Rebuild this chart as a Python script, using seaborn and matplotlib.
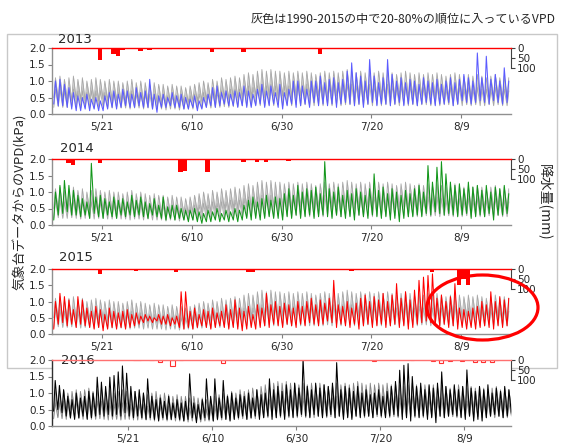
import numpy as np
import pandas as pd
import matplotlib
matplotlib.use("Agg")
import matplotlib.pyplot as plt
import matplotlib.dates as mdates
from matplotlib.patches import Rectangle, Ellipse
import seaborn as sns

# ---------------- data ----------------
title_text = "灰色は1990-2015の中で20-80%の順位に入っているVPD"
ylabel_text = "気象台データからのVPD(kPa)"
rlabel_text = "降水量(mm)"
tick_labels = ["5/21", "6/10", "6/30", "7/20", "8/9"]
years = [2013, 2014, 2015, 2016]

# daily max / min VPD (kPa), 2013-2015 from 5/10, 2016 from 5/3
vpd_max_2013 = [1.0, 1.05, 0.9, 0.8, 0.65, 0.55, 0.5, 0.6, 0.45, 0.5,
                0.4, 0.55, 0.65, 0.7, 0.6, 0.75, 0.7, 0.6, 0.8, 0.65,
                0.7, 1.05, 0.6, 0.55, 0.6, 0.5, 0.65, 0.55, 0.6, 0.5,
                0.45, 0.55, 0.4, 0.5, 0.6, 0.8, 0.85, 0.65, 0.7, 0.6,
                0.7, 0.65, 0.85, 0.7, 0.6, 0.75, 0.9, 0.7, 0.85, 0.65,
                0.9, 0.65, 0.75, 1.0, 1.0, 0.85, 0.75, 1.0, 1.0, 1.15,
                0.95, 1.05, 1.1, 0.95, 1.05, 1.3, 1.55, 1.25, 1.15, 1.0,
                1.65, 1.15, 0.95, 1.1, 1.65, 1.2, 1.0, 1.1, 0.95, 1.05,
                1.0, 0.9, 1.1, 1.0, 0.95, 1.05, 0.9, 1.0, 1.1, 0.95,
                1.05, 1.2, 1.1, 1.0, 1.85, 1.1, 1.75, 1.05, 1.2, 1.0,
                1.4, 1.0]
vpd_min_2013 = [0.3, 0.25, 0.25, 0.2, 0.15, 0.1, 0.1, 0.15, 0.1, 0.15,
                0.1, 0.1, 0.15, 0.2, 0.15, 0.2, 0.25, 0.2, 0.2, 0.25,
                0.2, 0.2, 0.15, 0.05, 0.2, 0.2, 0.25, 0.2, 0.2, 0.15,
                0.15, 0.2, 0.1, 0.15, 0.2, 0.25, 0.2, 0.25, 0.3, 0.25,
                0.25, 0.2, 0.25, 0.2, 0.2, 0.25, 0.3, 0.2, 0.25, 0.3,
                0.2, 0.15, 0.25, 0.3, 0.2, 0.25, 0.3, 0.2, 0.35, 0.25,
                0.3, 0.25, 0.3, 0.2, 0.3, 0.35, 0.3, 0.25, 0.3, 0.2,
                0.3, 0.35, 0.25, 0.3, 0.3, 0.25, 0.3, 0.35, 0.25, 0.3,
                0.3, 0.25, 0.3, 0.35, 0.3, 0.25, 0.3, 0.3, 0.35, 0.25,
                0.3, 0.4, 0.35, 0.3, 0.35, 0.4, 0.35, 0.3, 0.4, 0.35,
                0.3, 0.35]

vpd_max_2014 = [1.0, 1.2, 1.35, 1.2, 1.05, 0.9, 0.8, 0.7, 1.87, 0.85,
                0.9, 0.8, 0.7, 0.85, 0.75, 0.8, 0.7, 0.9, 0.75, 0.85,
                0.7, 0.65, 0.8, 0.6, 0.85, 0.55, 0.6, 0.6, 0.5, 0.45,
                0.45, 0.5, 0.4, 0.35, 0.45, 0.4, 0.5, 0.35, 0.45, 0.4,
                0.5, 0.45, 0.6, 0.75, 0.85, 0.7, 0.8, 0.9, 0.75, 0.85,
                0.8, 0.95, 1.1, 0.9, 1.2, 1.0, 1.1, 1.05, 1.15, 0.95,
                1.92, 1.1, 1.0, 1.15, 0.9, 1.05, 0.95, 1.1, 1.0, 0.9,
                1.1, 1.55, 1.05, 1.15, 0.95, 1.1, 1.0, 0.9, 1.05, 0.95,
                1.1, 1.2, 1.0, 1.8, 1.3, 1.75, 1.92, 1.55, 1.3, 1.2,
                1.25, 1.1, 1.3, 1.15, 1.2, 1.05, 1.2, 1.0, 1.15, 1.1,
                1.2, 0.95]
vpd_min_2014 = [0.15, 0.3, 0.35, 0.4, 0.3, 0.3, 0.25, 0.3, 0.2, 0.35,
                0.25, 0.2, 0.3, 0.25, 0.2, 0.3, 0.25, 0.3, 0.25, 0.3,
                0.25, 0.2, 0.3, 0.25, 0.2, 0.15, 0.2, 0.15, 0.2, 0.15,
                0.1, 0.15, 0.1, 0.05, 0.1, 0.1, 0.15, 0.1, 0.15, 0.1,
                0.15, 0.1, 0.15, 0.2, 0.15, 0.2, 0.15, 0.2, 0.25, 0.2,
                0.2, 0.15, 0.25, 0.2, 0.3, 0.2, 0.25, 0.3, 0.2, 0.25,
                0.3, 0.25, 0.2, 0.3, 0.25, 0.2, 0.25, 0.15, 0.3, 0.25,
                0.2, 0.3, 0.25, 0.2, 0.25, 0.15, 0.2, 0.1, 0.2, 0.25,
                0.25, 0.3, 0.25, 0.35, 0.3, 0.4, 0.35, 0.3, 0.35, 0.3,
                0.25, 0.3, 0.35, 0.2, 0.25, 0.3, 0.25, 0.35, 0.15, 0.3,
                0.3, 0.35]

vpd_max_2015 = [1.0, 1.25, 1.15, 1.05, 0.75, 1.15, 1.05, 0.8, 0.7, 0.85,
                0.75, 0.6, 0.8, 0.7, 0.65, 0.7, 0.75, 0.6, 0.65, 0.55,
                0.6, 0.55, 0.5, 0.6, 0.55, 0.6, 0.5, 0.55, 1.3, 1.3,
                0.7, 0.8, 0.6, 0.75, 0.7, 0.8, 0.65, 0.7, 0.9, 0.75,
                1.05, 0.8, 0.7, 0.85, 0.6, 0.9, 0.8, 1.25, 0.9, 1.0,
                0.85, 0.95, 0.9, 0.8, 1.0, 0.85, 1.0, 1.1, 0.9, 1.05,
                0.95, 1.1, 1.65, 0.9, 0.85, 1.0, 0.8, 0.95, 1.1, 1.2,
                1.0, 1.15, 1.05, 1.25, 1.0, 1.2, 1.55, 1.1, 1.3, 1.05,
                1.35, 1.65, 1.75, 1.8, 1.85, 1.1, 1.2, 1.0, 1.15, 1.55,
                0.8, 0.75, 0.7, 0.8, 0.85, 1.0, 0.9, 1.3, 1.0, 1.15,
                1.05, 1.1]
vpd_min_2015 = [0.15, 0.3, 0.35, 0.25, 0.3, 0.2, 0.3, 0.25, 0.2, 0.15,
                0.2, 0.1, 0.15, 0.2, 0.15, 0.2, 0.15, 0.2, 0.25, 0.3,
                0.35, 0.4, 0.35, 0.4, 0.3, 0.3, 0.25, 0.3, 0.2, 0.15,
                0.2, 0.15, 0.2, 0.25, 0.2, 0.15, 0.2, 0.25, 0.2, 0.15,
                0.2, 0.15, 0.1, 0.15, 0.2, 0.15, 0.2, 0.25, 0.2, 0.3,
                0.25, 0.2, 0.3, 0.25, 0.2, 0.3, 0.25, 0.35, 0.3, 0.25,
                0.3, 0.4, 0.35, 0.2, 0.3, 0.25, 0.2, 0.3, 0.15, 0.25,
                0.3, 0.2, 0.25, 0.3, 0.2, 0.25, 0.3, 0.2, 0.25, 0.15,
                0.2, 0.3, 0.35, 0.4, 0.35, 0.3, 0.25, 0.3, 0.2, 0.25,
                0.15, 0.2, 0.15, 0.2, 0.15, 0.2, 0.25, 0.2, 0.15, 0.25,
                0.2, 0.25]

vpd_max_2016 = [1.38, 1.23, 1.1, 0.9, 0.8, 1.0, 0.85, 0.9, 1.05, 1.0,
                1.48, 1.33, 1.2, 1.48, 1.53, 1.64, 1.82, 1.6, 1.2, 1.05,
                1.1, 1.0, 1.43, 0.9, 0.8, 0.85, 0.75, 0.9, 0.7, 0.8,
                0.7, 0.75, 1.58, 0.7, 0.65, 0.8, 1.43, 0.9, 1.43, 0.85,
                1.38, 0.9, 1.0, 0.85, 0.95, 0.9, 1.0, 0.85, 1.1, 0.95,
                1.0, 1.43, 1.1, 1.2, 1.05, 1.25, 1.1, 1.3, 1.15, 2.05,
                1.2, 1.1, 1.3, 1.15, 1.25, 1.2, 1.3, 1.92, 1.1, 1.2,
                1.15, 1.05, 1.2, 1.0, 1.1, 0.95, 1.0, 1.1, 0.9, 1.05,
                1.2, 1.35, 1.69, 1.84, 1.89, 1.5, 1.2, 1.3, 1.1, 1.25,
                1.15, 1.3, 1.64, 1.2, 1.1, 1.25, 1.1, 1.2, 1.7, 1.15,
                1.05, 1.2, 1.1, 1.25, 1.0, 1.15, 1.05, 1.2, 1.1, 1.25]
vpd_min_2016 = [0.45, 0.5, 0.4, 0.3, 0.25, 0.2, 0.25, 0.3, 0.2, 0.25,
                0.3, 0.35, 0.3, 0.35, 0.3, 0.35, 0.3, 0.4, 0.3, 0.25,
                0.3, 0.25, 0.2, 0.25, 0.2, 0.15, 0.25, 0.2, 0.2, 0.25,
                0.2, 0.15, 0.2, 0.25, 0.1, 0.2, 0.25, 0.2, 0.15, 0.2,
                0.25, 0.2, 0.15, 0.2, 0.25, 0.3, 0.2, 0.25, 0.3, 0.2,
                0.25, 0.3, 0.2, 0.25, 0.3, 0.2, 0.3, 0.25, 0.3, 0.35,
                0.3, 0.25, 0.35, 0.3, 0.25, 0.3, 0.35, 0.25, 0.3, 0.2,
                0.25, 0.2, 0.3, 0.25, 0.3, 0.3, 0.25, 0.35, 0.3, 0.25,
                0.3, 0.35, 0.3, 0.2, 0.25, 0.15, 0.3, 0.25, 0.3, 0.2,
                0.25, 0.1, 0.3, 0.25, 0.3, 0.35, 0.3, 0.25, 0.2, 0.3,
                0.15, 0.2, 0.15, 0.25, 0.3, 0.35, 0.3, 0.25, 0.3, 0.35]

# 1990-2015 climatology (20th / 80th percentile), daily from 5/3
clim_p80_peak = [1.1, 1.05, 1.1, 1.0, 1.05, 1.1, 1.05,
                 1.1, 1.15, 1.05, 1.1, 1.15, 1.05, 1.1, 1.0, 1.05, 1.1, 1.05,
                 1.0, 1.05, 1.0, 1.0, 0.95, 1.0, 1.05, 0.95, 1.0, 0.95, 0.9,
                 0.95, 0.9, 0.9, 0.85, 0.9, 0.85, 0.85, 0.8, 0.85, 0.9,
                 0.95, 1.0, 0.95, 1.05, 1.0, 1.1, 1.05, 1.1, 1.15, 1.1,
                 1.2, 1.25, 1.2, 1.3, 1.35, 1.3, 1.35, 1.3, 1.3, 1.25,
                 1.3, 1.25, 1.3, 1.25, 1.3, 1.25, 1.2, 1.25, 1.3, 1.25,
                 1.3, 1.25, 1.3, 1.35, 1.3, 1.25, 1.3, 1.25, 1.3, 1.25,
                 1.3, 1.25, 1.3, 1.25, 1.2, 1.25, 1.3, 1.25, 1.2, 1.25, 1.2,
                 1.25, 1.2, 1.25, 1.2, 1.15, 1.2, 1.25, 1.2, 1.15, 1.2,
                 1.15, 1.2, 1.15, 1.1, 1.15, 1.2, 1.1, 1.15, 1.1, 1.15]
clim_p20_peak = [0.7, 0.7, 0.75, 0.7, 0.7, 0.75, 0.7,
                 0.75, 0.75, 0.7, 0.75, 0.75, 0.7, 0.7, 0.65, 0.7, 0.7, 0.7,
                 0.65, 0.7, 0.65, 0.65, 0.6, 0.65, 0.7, 0.6, 0.65, 0.6, 0.6,
                 0.6, 0.55, 0.6, 0.55, 0.55, 0.55, 0.5, 0.5, 0.55, 0.6,
                 0.6, 0.65, 0.6, 0.7, 0.65, 0.7, 0.7, 0.75, 0.75, 0.75,
                 0.8, 0.85, 0.8, 0.85, 0.9, 0.85, 0.9, 0.85, 0.85, 0.85,
                 0.85, 0.85, 0.9, 0.85, 0.9, 0.85, 0.8, 0.85, 0.9, 0.85,
                 0.9, 0.85, 0.9, 0.9, 0.9, 0.85, 0.9, 0.85, 0.9, 0.85,
                 0.9, 0.85, 0.9, 0.85, 0.8, 0.85, 0.9, 0.85, 0.8, 0.85, 0.8,
                 0.85, 0.8, 0.85, 0.8, 0.75, 0.8, 0.85, 0.8, 0.75, 0.8,
                 0.75, 0.8, 0.75, 0.75, 0.75, 0.8, 0.75, 0.75, 0.7, 0.75]
clim_p80_night = [0.45, 0.5, 0.45, 0.45, 0.5, 0.45, 0.45, 0.5, 0.45, 0.45,
                  0.45, 0.4, 0.45, 0.45, 0.4, 0.45, 0.4, 0.4, 0.45, 0.4,
                  0.4, 0.4, 0.35, 0.4, 0.4, 0.35, 0.4, 0.35, 0.35, 0.35,
                  0.35, 0.35, 0.3, 0.35, 0.35, 0.3, 0.35, 0.35, 0.4, 0.4,
                  0.4, 0.45, 0.4, 0.45, 0.45, 0.5, 0.45, 0.5, 0.5, 0.5,
                  0.55, 0.5, 0.55, 0.55, 0.5, 0.55, 0.55, 0.5, 0.55, 0.55,
                  0.5, 0.55, 0.55, 0.5, 0.55, 0.5, 0.55, 0.55, 0.5, 0.55,
                  0.55, 0.5, 0.55, 0.55, 0.5, 0.55, 0.5, 0.55, 0.55, 0.5,
                  0.55, 0.5, 0.55, 0.5, 0.55, 0.55, 0.5, 0.55, 0.5, 0.55,
                  0.5, 0.55, 0.5, 0.55, 0.5, 0.5, 0.55, 0.5, 0.5, 0.55,
                  0.5, 0.5, 0.55, 0.5, 0.5, 0.5, 0.55, 0.5, 0.5, 0.5]
clim_p20_night = [0.22, 0.25, 0.22, 0.2, 0.22, 0.25, 0.22, 0.2, 0.22, 0.2,
                  0.2, 0.22, 0.2, 0.18, 0.2, 0.2, 0.18, 0.2, 0.2, 0.18,
                  0.18, 0.2, 0.18, 0.18, 0.15, 0.18, 0.18, 0.15, 0.18, 0.15,
                  0.15, 0.15, 0.12, 0.15, 0.15, 0.12, 0.15, 0.15, 0.15, 0.18,
                  0.18, 0.2, 0.18, 0.2, 0.2, 0.22, 0.2, 0.22, 0.22, 0.25,
                  0.25, 0.25, 0.28, 0.25, 0.25, 0.28, 0.25, 0.28, 0.25, 0.28,
                  0.25, 0.28, 0.25, 0.28, 0.25, 0.25, 0.28, 0.25, 0.28, 0.25,
                  0.28, 0.25, 0.28, 0.28, 0.25, 0.28, 0.25, 0.28, 0.25, 0.28,
                  0.25, 0.28, 0.25, 0.28, 0.25, 0.28, 0.25, 0.28, 0.25, 0.28,
                  0.28, 0.25, 0.28, 0.25, 0.28, 0.28, 0.25, 0.28, 0.25, 0.28,
                  0.25, 0.28, 0.25, 0.25, 0.28, 0.25, 0.28, 0.25, 0.25, 0.28]

# daily precipitation (mm)
rain_days_2013 = ["5/20", "5/23", "5/24", "5/25", "5/27", "5/29", "5/31", "6/9", "6/14", "6/15",
                  "6/16", "6/21", "6/30", "7/8", "7/11", "7/15", "8/9", "8/14", "8/15", "8/19"]
rain_mm_2013 = [62, 32, 40, 12, 3, 13, 12, 3, 22, 6, 4, 20, 5, 32, 2, 2, 2, 3, 3, 2]
rain_days_2014 = ["5/13", "5/14", "5/20", "5/22", "5/25", "5/26", "6/7", "6/8", "6/11", "6/13",
                  "6/17", "6/18", "6/21", "6/24", "6/26", "7/1", "7/29", "8/1", "8/6", "8/19"]
rain_mm_2014 = [22, 30, 22, 6, 3, 2, 63, 60, 2, 63, 2, 2, 17, 17, 13, 8, 3, 5, 2, 3]
rain_days_2015 = ["5/10", "5/20", "5/28", "6/6", "6/16", "6/17", "6/22", "6/23", "7/13", "7/15",
                  "7/24", "7/29", "8/2", "8/6", "8/8", "8/9", "8/10", "8/13", "8/16"]
rain_mm_2015 = [3, 25, 10, 13, 3, 3, 17, 17, 3, 10, 3, 3, 13, 3, 80, 50, 83, 3, 2]
rain_days_2016 = ["5/22", "5/23", "5/26", "5/28", "5/31", "6/2", "6/12", "7/18", "7/27", "8/1",
                  "8/3", "8/5", "8/8", "8/11", "8/13", "8/15", "8/16"]
rain_mm_2016 = [2, 2, 2, 12, 28, 2, 14, 3, 2, 3, 14, 3, 4, 10, 10, 10, 2]

# ---------------- style ----------------
sns.set_style("white")
plt.rcParams['font.family'] = ['DejaVu Sans', 'Noto Sans CJK JP']
JP = ['Noto Sans CJK JP', 'DejaVu Sans']

W, H = 561, 443
fig = plt.figure(figsize=(W / 100, H / 100), dpi=100)


def fx(px):
    return px / W


def fy(py):
    return 1 - py / H


def md(year, s):
    m, d = map(int, s.split("/"))
    return pd.Timestamp(year, m, d)


def zigzag(start, lows, highs):
    t, v = [], []
    for d, (lo, hi) in enumerate(zip(lows, highs)):
        t.append(start + pd.Timedelta(days=d, hours=5))
        v.append(lo)
        t.append(start + pd.Timedelta(days=d, hours=14))
        v.append(hi)
    return pd.DatetimeIndex(t), np.array(v, float)


panels = {
    2013: dict(top=48, bot=114, start="5/10", vmax=vpd_max_2013, vmin=vpd_min_2013, color="#5b5bff",
               rd=rain_days_2013, rm=rain_mm_2013, tx=0.014, ty=1.136),
    2014: dict(top=159, bot=225, start="5/10", vmax=vpd_max_2014, vmin=vpd_min_2014, color="#12961a",
               rd=rain_days_2014, rm=rain_mm_2014, tx=0.018, ty=1.159),
    2015: dict(top=269, bot=334, start="5/10", vmax=vpd_max_2015, vmin=vpd_min_2015, color="#ff0000",
               rd=rain_days_2015, rm=rain_mm_2015, tx=0.016, ty=1.18),
    2016: dict(top=360, bot=426, start="5/3", vmax=vpd_max_2016, vmin=vpd_min_2016, color="#000000",
               rd=rain_days_2016, rm=rain_mm_2016, tx=0.02, ty=1.0),
}

L, R = 51.7, 511.0
for year in years:
    p = panels[year]
    ax = fig.add_axes([fx(L), fy(p["bot"]), (R - L) / W, (p["bot"] - p["top"]) / H])
    start = md(year, p["start"])
    n = len(p["vmax"])
    off = (start - md(year, "5/3")).days
    t_g, p80 = zigzag(start, clim_p80_night[off:off + n], clim_p80_peak[off:off + n])
    _, p20 = zigzag(start, clim_p20_night[off:off + n], clim_p20_peak[off:off + n])
    dark = year == 2016
    fill_c = "#a6a6a6" if dark else "#c2c2c2"
    edge_c = "#858585" if dark else "#a8a8a8"
    ax.fill_between(t_g, p20, p80, color=fill_c, lw=0, zorder=1)
    sns.lineplot(x=t_g, y=p80, ax=ax, color=edge_c, linewidth=0.6, estimator=None, zorder=1.5)
    sns.lineplot(x=t_g, y=p20, ax=ax, color=edge_c, linewidth=0.6, estimator=None, zorder=1.5)
    t, v = zigzag(start, p["vmin"], p["vmax"])
    sns.lineplot(x=t, y=v, ax=ax, color=p["color"], linewidth=0.75, estimator=None, zorder=3)

    x0 = start - pd.Timedelta(hours=6)
    ax.set_xlim(x0, md(year, "8/20") + pd.Timedelta(hours=2))
    ax.set_ylim(0, 2)
    ax.set_yticks([0, 0.5, 1.0, 1.5, 2.0])
    ax.set_yticklabels(["0.0", "0.5", "1.0", "1.5", "2.0"])
    ax.set_xticks([md(year, s) for s in tick_labels])
    ax.set_xticklabels(tick_labels)
    ax.set_xlabel("")
    ax.set_ylabel("")
    ax.tick_params(axis="y", left=True, length=3, width=0.8, color="#808080", pad=1.5, labelsize=7.5)
    ax.tick_params(axis="x", bottom=True, length=3, width=0.8, color="#808080", pad=3, labelsize=7.5)
    ax.spines["top"].set_visible(False)
    ax.spines["right"].set_visible(False)
    ax.spines["left"].set_color("#303030" if dark else "#909090")
    ax.spines["bottom"].set_color("#909090")
    ax.spines["left"].set_linewidth(1.0)
    ax.spines["bottom"].set_linewidth(1.0)
    ax.text(p["tx"], p["ty"], str(year), transform=ax.transAxes, ha="left", va="center",
            fontsize=9.5, zorder=5)

    ax2 = ax.twinx()
    ax2.set_ylim(330, 0)
    bx = [mdates.date2num(md(year, s)) + 0.5 for s in p["rd"]]
    if dark:
        ax2.bar(bx, p["rm"], width=1.0, fill=False, edgecolor="#ff3030", linewidth=0.8)
    else:
        ax2.bar(bx, p["rm"], width=1.0, color="#ff0000", linewidth=0)
    ax2.set_yticks([0, 50, 100])
    ax2.set_yticklabels(["0", "50", "100"])
    ax2.tick_params(axis="y", right=True, length=3, width=0.8, color="#404040", pad=1.5, labelsize=7.5)
    ax2.spines["right"].set_bounds(0, 100)
    ax2.spines["right"].set_color("#404040")
    ax2.spines["left"].set_visible(False)
    ax2.spines["bottom"].set_visible(False)
    ax2.spines["top"].set_color("#ff7070" if dark else "#ff0000")
    ax2.spines["top"].set_linewidth(1.0)
    ax2.set_xlim(ax.get_xlim())
    ax2.grid(False)
    ax.grid(False)

# outer frame of the upper figure
fig.add_artist(Rectangle((fx(7), fy(368)), 550 / W, 334 / H, transform=fig.transFigure,
                         fill=False, edgecolor="#c8c8c8", linewidth=1.0, zorder=-1))

fig.text(fx(251), fy(19), title_text, ha="left", va="center", fontsize=8.7, family=JP)
fig.text(fx(19.5), fy(202), ylabel_text, ha="center", va="center", rotation=90, fontsize=9.5, family=JP)
fig.text(fx(545), fy(202), rlabel_text, ha="center", va="center", rotation=270, fontsize=10, family=JP)

fig.add_artist(Ellipse((fx(482.5), fy(307.5)), 111 / W, 65 / H, transform=fig.transFigure,
                       fill=False, edgecolor="#ff0000", linewidth=2.3, zorder=10))

fig.savefig("out.png", dpi=100)
